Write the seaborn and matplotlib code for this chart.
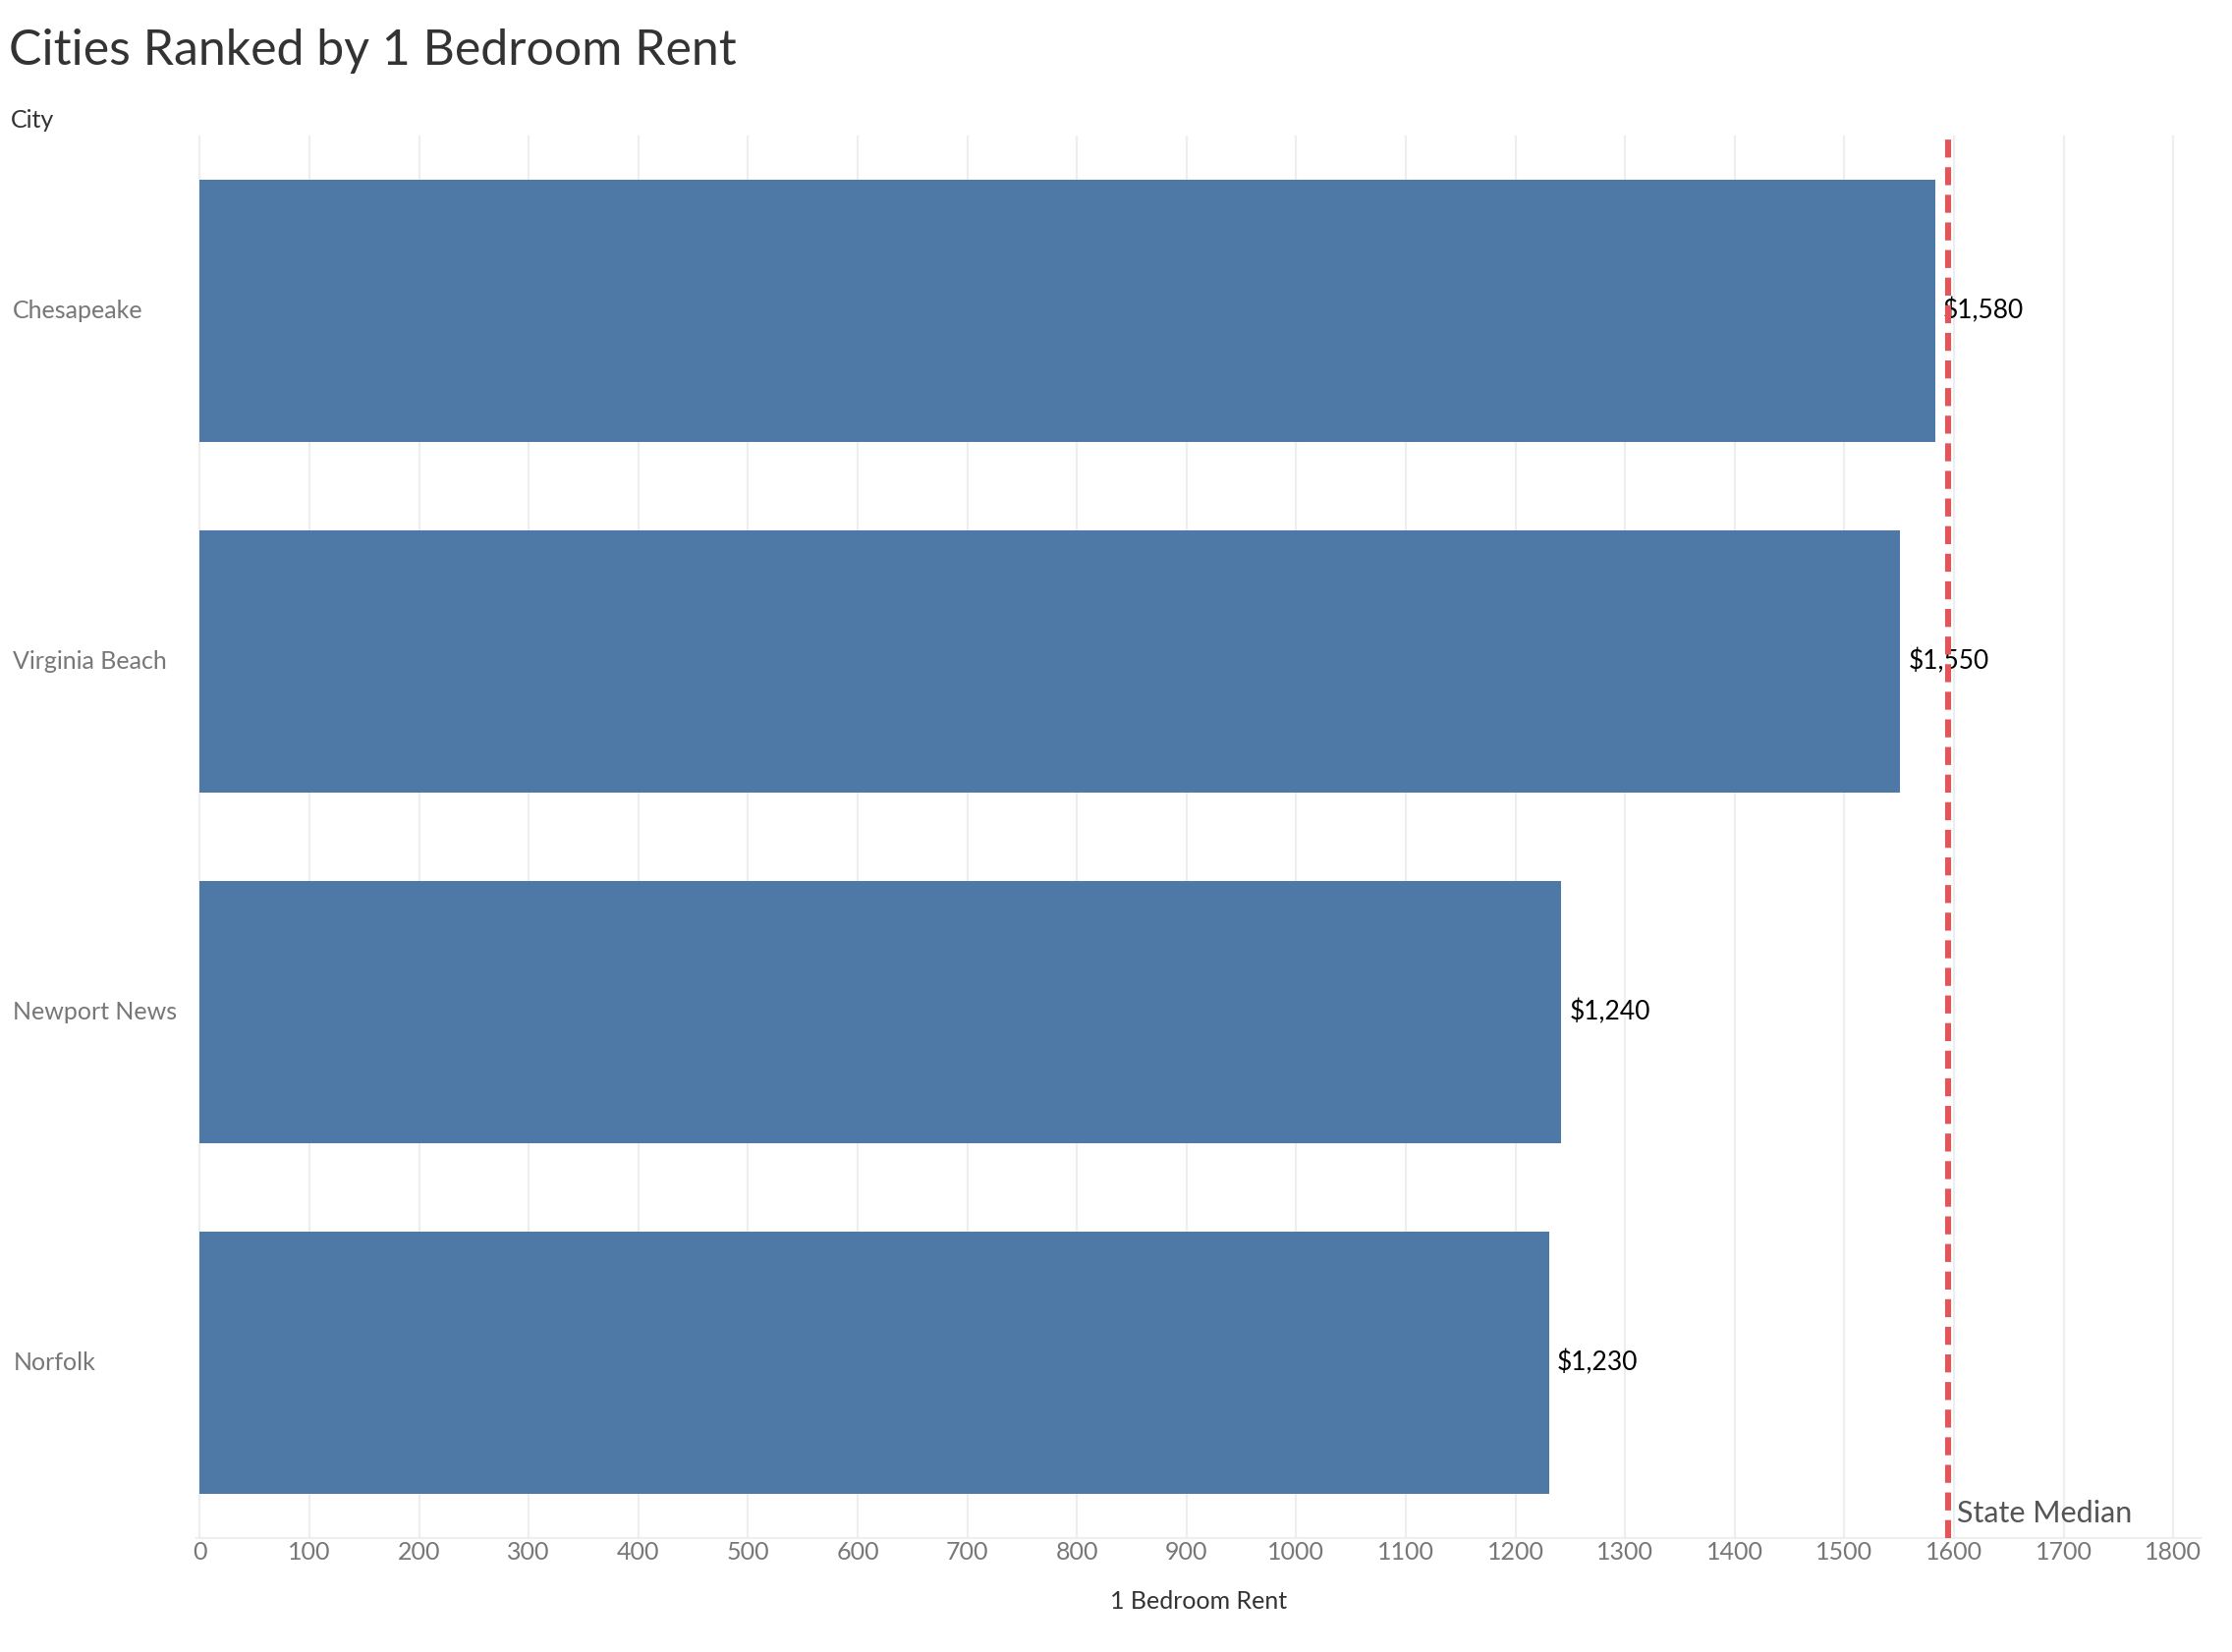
import matplotlib
matplotlib.use("Agg")
import matplotlib.pyplot as plt
import matplotlib.transforms as mtransforms
import seaborn as sns
import pandas as pd

cities = ["Chesapeake", "Virginia Beach", "Newport News", "Norfolk"]
rent = [1583, 1551, 1242, 1231]
labels = ["$1,580", "$1,550", "$1,240", "$1,230"]
state_median = 1595
ticks = list(range(0, 1900, 100))

df = pd.DataFrame({"City": cities, "Rent": rent})

plt.rcParams["font.family"] = "Lato"
fig = plt.figure(figsize=(11.36, 8.41), dpi=200)
ax = fig.add_axes([0.088, 0.069, 0.898, 0.849])

sns.barplot(data=df, x="Rent", y="City", color="#4e79a7", saturation=1, width=0.75, ax=ax)

for i, (v, t) in enumerate(zip(rent, labels)):
    ax.text(v + 7, i, t, va="center", ha="left", fontsize=9.5, color="black")

ax.axvline(state_median, color="#e15759", lw=2.2, ls=(0, (3, 1.6)), zorder=5)
ax.text(state_median + 8, 3.47, "State Median", fontsize=11, color="#555555", va="bottom")

ax.set_xlim(-3, 1825)
ax.set_ylim(3.5, -0.5)
ax.set_xticks(ticks)
ax.set_xticklabels([str(t) for t in ticks], fontsize=9, color="#777777")
ax.xaxis.grid(True, color="#eeeeee", lw=0.8)
ax.set_axisbelow(True)
ax.tick_params(axis="both", length=0)
ax.tick_params(axis="x", pad=1)
ax.set_yticks(range(len(cities)))
ax.set_yticklabels([""] * len(cities))
trans = mtransforms.blended_transform_factory(ax.transAxes, ax.transData)
for i, c in enumerate(cities):
    ax.text(-0.0915, i, c, transform=trans, ha="left", va="center", fontsize=9, color="#777777")
for s in ["top", "right", "left"]:
    ax.spines[s].set_visible(False)
ax.spines["bottom"].set_color("#eeeeee")
ax.set_xlabel("1 Bedroom Rent", fontsize=9, color="#333333", labelpad=10)
ax.set_ylabel("")

fig.text(0.004, 0.969, "Cities Ranked by 1 Bedroom Rent", fontsize=18, color="#333333", va="center")
fig.text(0.005, 0.927, "City", fontsize=9, color="#333333", va="center")

fig.savefig("out.png", dpi=200)
